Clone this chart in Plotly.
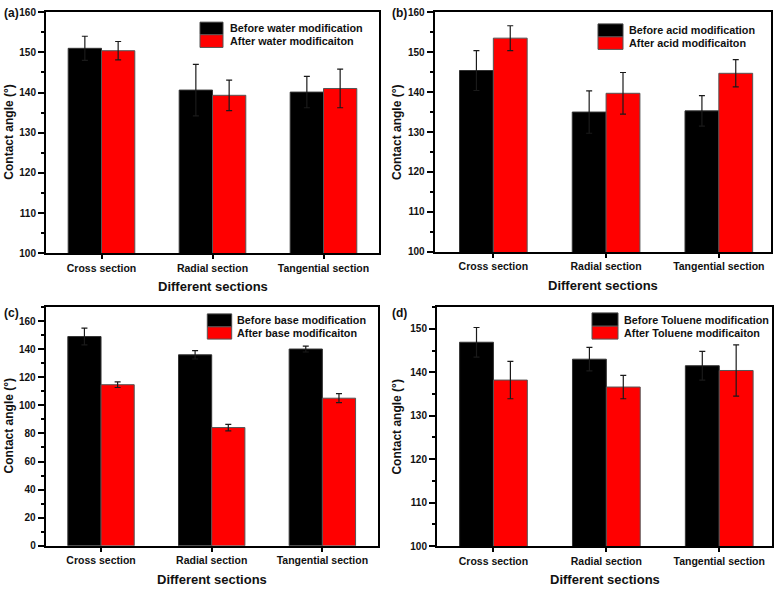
import plotly.graph_objects as go

categories = ["Cross section", "Radial section", "Tangential section"]

water_before = [151.0, 140.6, 140.1]
water_before_err = [3.0, 6.4, 3.9]
water_after = [150.4, 139.3, 141.0]
water_after_err = [2.3, 3.8, 4.8]

acid_before = [145.4, 135.0, 135.3]
acid_before_err = [5.0, 5.3, 3.8]
acid_after = [153.5, 139.7, 144.7]
acid_after_err = [3.1, 5.2, 3.4]

base_before = [149.0, 136.0, 140.1]
base_before_err = [6.0, 3.0, 2.1]
base_after = [114.7, 84.2, 105.1]
base_after_err = [2.0, 2.3, 3.2]

tol_before = [146.9, 143.0, 141.5]
tol_before_err = [3.4, 2.7, 3.3]
tol_after = [138.2, 136.6, 140.4]
tol_after_err = [4.3, 2.7, 5.9]

panels = [
    ("(a)", "water", water_before, water_before_err, water_after, water_after_err),
    ("(b)", "acid", acid_before, acid_before_err, acid_after, acid_after_err),
    ("(c)", "base", base_before, base_before_err, base_after, base_after_err),
    ("(d)", "Toluene", tol_before, tol_before_err, tol_after, tol_after_err),
]

W, H = 776, 590
FONT = "Liberation Sans, Arial, sans-serif"

# pixel geometry of each panel: (left, right, top, bottom)
geom = [
    (46, 379, 6.3, 252.3),
    (434.7, 770.7, 6.3, 251.0),
    (45.7, 377.7, 307.3, 551.0),
    (437, 772.3, 307.3, 551.3),
]
yranges = [[100, 160], [100, 160], [0, 170], [100, 155]]
ydtick = [10, 10, 20, 10]
yminor = [5, 5, 10, 5]
xranges = [[-0.5, 2.5], [-0.52, 2.46], [-0.5, 2.5], [-0.5, 2.47]]
# legend swatch geometry per panel: (x0, x1, y0, ymid, y1, text_x)
leg = [
    (200, 223, 16.5, 29.3, 42.3, 228),
    (598, 623, 18.3, 31.5, 44.3, 626.5),
    (207.3, 231.7, 314.3, 327.5, 340, 235),
    (592, 618, 313.3, 326.8, 340, 621.5),
]

fig = go.Figure()
shapes = []
annotations = []

def px(x):
    return x / W

def py(y):
    return 1 - y / H

for i, (lab, name, b, be, a, ae) in enumerate(panels):
    n = i + 1
    xa = "x" if n == 1 else f"x{n}"
    ya = "y" if n == 1 else f"y{n}"
    err_style = dict(type="data", thickness=1.2, width=3, color="#1a1a1a")
    fig.add_trace(go.Bar(
        x=categories, y=b, name=f"Before {name} modification",
        error_y=dict(array=be, **err_style),
        marker=dict(color="#000000", line=dict(color="#333333", width=1)),
        xaxis=xa, yaxis=ya, showlegend=False, offsetgroup="1",
    ))
    fig.add_trace(go.Bar(
        x=categories, y=a, name=f"After {name} modificaiton",
        error_y=dict(array=ae, **err_style),
        marker=dict(color="#ff0000", line=dict(color="#555555", width=1)),
        xaxis=xa, yaxis=ya, showlegend=False, offsetgroup="2",
    ))
    l, r, t, bt = geom[i]
    xkey = "xaxis" if n == 1 else f"xaxis{n}"
    ykey = "yaxis" if n == 1 else f"yaxis{n}"
    fig.update_layout(**{
        xkey: dict(
            domain=[px(l), px(r)], anchor=ya, range=xranges[i],
            showline=True, linecolor="#000", linewidth=2, mirror=True,
            ticks="outside", ticklen=4, tickwidth=1.5, tickcolor="#000",
            tickfont=dict(family=FONT, size=10.5, color="#111", weight="bold"),
            showgrid=False, zeroline=False,
        ),
        ykey: dict(
            domain=[py(bt), py(t)], anchor=xa, range=yranges[i],
            dtick=ydtick[i], tick0=0,
            showline=True, linecolor="#000", linewidth=2, mirror=True,
            ticks="outside", ticklen=6, tickwidth=1.5, tickcolor="#000",
            minor=dict(dtick=yminor[i], ticks="outside", ticklen=3, tickwidth=1.5, tickcolor="#000"),
            tickfont=dict(family=FONT, size=10, color="#111", weight="bold"),
            showgrid=False, zeroline=False,
        ),
    })
    # axis titles
    annotations.append(dict(
        text="<b>Different sections</b>", xref="paper", yref="paper",
        x=px((l + r) / 2), y=py(bt + 34), showarrow=False,
        font=dict(family=FONT, size=13, color="#111"), xanchor="center", yanchor="middle",
    ))
    ytx = 9 if i % 2 == 0 else 397
    annotations.append(dict(
        text="<b>Contact angle (°)</b>", xref="paper", yref="paper",
        x=px(ytx), y=py((t + bt) / 2), showarrow=False, textangle=-90,
        font=dict(family=FONT, size=12, color="#111"), xanchor="center", yanchor="middle",
    ))
    # panel label
    plx = 2 if i % 2 == 0 else 390
    ply = 7 if i < 2 else 313
    annotations.append(dict(
        text=f"<b>{lab}</b>", xref="paper", yref="paper",
        x=px(plx), y=py(ply), showarrow=False, xanchor="left", yanchor="middle",
        font=dict(family=FONT, size=12, color="#111"),
    ))
    # legend
    x0, x1, y0, ym, y1, tx = leg[i]
    shapes.append(dict(type="rect", xref="paper", yref="paper",
                       x0=px(x0), x1=px(x1), y0=py(y0), y1=py(ym),
                       fillcolor="#000", line=dict(color="#444", width=1)))
    shapes.append(dict(type="rect", xref="paper", yref="paper",
                       x0=px(x0), x1=px(x1), y0=py(ym), y1=py(y1),
                       fillcolor="#ff0000", line=dict(color="#555", width=1)))
    annotations.append(dict(
        text=f"<b>Before {name} modification</b>", xref="paper", yref="paper",
        x=px(tx), y=py((y0 + ym) / 2), showarrow=False, xanchor="left", yanchor="middle",
        font=dict(family=FONT, size=10.8, color="#111"),
    ))
    annotations.append(dict(
        text=f"<b>After {name} modificaiton</b>", xref="paper", yref="paper",
        x=px(tx), y=py((ym + y1) / 2), showarrow=False, xanchor="left", yanchor="middle",
        font=dict(family=FONT, size=10.8, color="#111"),
    ))

fig.update_layout(
    width=W, height=H,
    margin=dict(l=0, r=0, t=0, b=0),
    barmode="group", bargap=0.4, bargroupgap=0,
    plot_bgcolor="white", paper_bgcolor="white",
    shapes=shapes, annotations=annotations,
    font=dict(family=FONT, color="#111"),
)

fig.write_html(
    "out.html",
    config={"displayModeBar": False},
    post_script="document.body.style.margin='0px';document.body.style.overflow='hidden';",
)
